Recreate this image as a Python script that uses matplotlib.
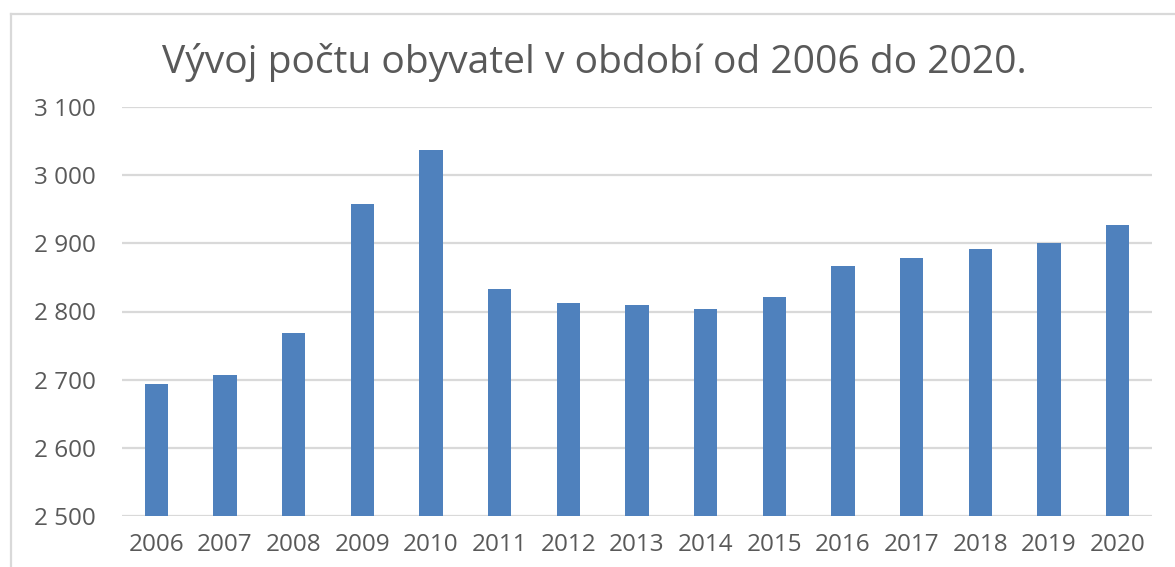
import matplotlib
matplotlib.use("Agg")
import matplotlib.pyplot as plt
from matplotlib.lines import Line2D
from matplotlib.ticker import FuncFormatter

years = ["2006", "2007", "2008", "2009", "2010", "2011", "2012", "2013",
         "2014", "2015", "2016", "2017", "2018", "2019", "2020"]
population = [2694, 2707, 2769, 2958, 3037, 2833, 2812, 2810,
              2804, 2822, 2867, 2879, 2892, 2900, 2927]
y_ticks = [2500, 2600, 2700, 2800, 2900, 3000, 3100]
title = "Vývoj počtu obyvatel v období od 2006 do 2020."

plt.rcParams['font.family'] = ['Open Sans', 'DejaVu Sans']
text_color = "#595959"

fig = plt.figure(figsize=(11.75, 5.67), dpi=100)
ax = fig.add_axes([122 / 1175, 1 - 516 / 567, (1152 - 122) / 1175, (516 - 107) / 567])

x = list(range(len(years)))
ax.bar(x, population, width=0.34, color="#4F81BD", zorder=3)
ax.set_xlim(-0.5, len(years) - 0.5)
ax.set_ylim(y_ticks[0], y_ticks[-1])
ax.set_yticks(y_ticks)
ax.yaxis.set_major_formatter(FuncFormatter(lambda v, p: f"{int(v):,}".replace(",", " ")))
ax.set_xticks(x)
ax.set_xticklabels(years)

ax.grid(axis="y", color="#D9D9D9", linewidth=1.6, zorder=0)
for s in ax.spines.values():
    s.set_visible(False)
ax.tick_params(axis="both", length=0, labelsize=17.5, labelcolor=text_color)
ax.tick_params(axis="y", pad=19)
ax.tick_params(axis="x", pad=12)

t = fig.text(594 / 1175, 1 - 62 / 567, title, ha="center", va="center",
             fontsize=24, color=text_color)
fig.canvas.draw()
w = t.get_window_extent().width
t.set_fontsize(24 * 868 / w)

# chart frame
fig.add_artist(Line2D([10.5 / 1175, 10.5 / 1175], [0, 1 - 14 / 567],
                      transform=fig.transFigure, color="#D9D9D9", linewidth=1.6))
fig.add_artist(Line2D([10.5 / 1175, 1], [1 - 14 / 567, 1 - 14 / 567],
                      transform=fig.transFigure, color="#D9D9D9", linewidth=1.6))

fig.savefig("out.png", dpi=100, facecolor="white")
